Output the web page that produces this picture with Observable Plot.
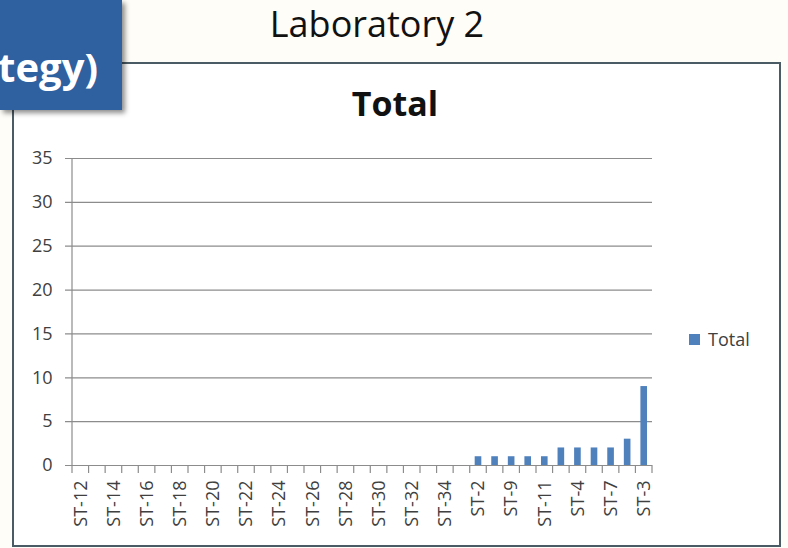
<!DOCTYPE html>
<html>
<head>
<meta charset="utf-8">
<script src="https://cdn.jsdelivr.net/npm/d3@7"></script>
<script src="https://cdn.jsdelivr.net/npm/@observablehq/plot@0.6"></script>
<style>
  html, body { margin: 0; padding: 0; background: #fffdf8; }
  #stage { position: relative; width: 788px; height: 548px; overflow: hidden; background: #fffdf8; font-family: "Open Sans", sans-serif; }
  #frame { position: absolute; left: 12px; top: 62px; width: 765px; height: 481px; border: 2px solid #4b5b65; background: #ffffff; }
  #plot { position: absolute; left: 0; top: 0; }
  #badge { position: absolute; left: 0; top: 0; width: 122px; height: 110px; background: #2f609f; box-shadow: 3px 3px 5px rgba(0,0,0,0.45); z-index: 5; overflow: hidden; }
  #badge span { position: absolute; right: 24px; top: 47px; color: #fff; font: bold 40px "Open Sans", sans-serif; line-height: 1; white-space: nowrap; }
  #slideTitle { position: absolute; left: 0; width: 754px; top: 0px; text-align: center; font-size: 36px; line-height: 48px; color: #111; }
  #chartTitle { position: absolute; left: 0; width: 790px; top: 80px; text-align: center; font-size: 34px; line-height: 46px; font-weight: bold; color: #111; }
  #legend { position: absolute; left: 689px; top: 327px; font-size: 18px; color: #404040; display: flex; align-items: center; }
  #legend i { display: inline-block; width: 11px; height: 11px; background: #4f81bd; margin-right: 8px; }
</style>
</head>
<body>
<div id="stage">
  <div id="slideTitle">Laboratory 2</div>
  <div id="frame"></div>
  <div id="plot"></div>
  <div id="chartTitle">Total</div>
  <div id="legend"><i></i><span>Total</span></div>
  <div id="badge"><span>tegy)</span></div>
</div>
<script>
const categories = [
  "ST-12","ST-13","ST-14","ST-15","ST-16","ST-17","ST-18","ST-19","ST-20","ST-21",
  "ST-22","ST-23","ST-24","ST-25","ST-26","ST-27","ST-28","ST-29","ST-30","ST-31",
  "ST-32","ST-33","ST-34","ST-35","ST-2","ST-5","ST-9","ST-10","ST-11","ST-1",
  "ST-4","ST-6","ST-7","ST-8","ST-3"
];
const totals = [
  0,0,0,0,0,0,0,0,0,0,
  0,0,0,0,0,0,0,0,0,0,
  0,0,0,0,1,1,1,1,1,2,
  2,2,2,3,9
];
const xTickLabels = ["ST-12","ST-14","ST-16","ST-18","ST-20","ST-22","ST-24","ST-26","ST-28","ST-30","ST-32","ST-34","ST-2","ST-9","ST-11","ST-4","ST-7","ST-3"];
const yTicks = [0,5,10,15,20,25,30,35];

const data = categories.map((c, i) => ({category: c, total: totals[i]}));

const W = 788, H = 548, ML = 72, MR = 136, MT = 158, MB = 83;
const grid = "#8c8c8c";
const textColor = "#404040";
const svgns = "http://www.w3.org/2000/svg";

// Excel-style category axis: vertical axis line plus ticks on category boundaries
function categoryFrame(index, scales, values, dimensions) {
  const g = document.createElementNS(svgns, "g");
  const x = scales.x;
  const y = scales.y;
  const step = x.step ? x.step() : (W - ML - MR) / categories.length;
  const bw = x.bandwidth ? x.bandwidth() : 0;
  const y0 = y(0), yTop = y(35);
  const left = x(categories[0]) + bw / 2 - step / 2;
  const add = (x1, y1, x2, y2) => {
    const l = document.createElementNS(svgns, "line");
    l.setAttribute("x1", x1); l.setAttribute("y1", y1);
    l.setAttribute("x2", x2); l.setAttribute("y2", y2);
    l.setAttribute("stroke", grid); l.setAttribute("stroke-width", 1.2);
    g.appendChild(l);
  };
  add(left, yTop, left, y0 + 8);
  categories.forEach(c => {
    const xb = x(c) + bw / 2 + step / 2;
    add(xb, y0, xb, y0 + 8);
  });
  return g;
}

const chart = Plot.plot({
  width: W,
  height: H,
  marginLeft: ML,
  marginRight: MR,
  marginTop: MT,
  marginBottom: MB,
  style: {background: "transparent", fontFamily: "'Open Sans', sans-serif", color: textColor},
  x: {domain: categories, paddingInner: 0.6, paddingOuter: 0.3, round: false, axis: null},
  y: {domain: [0, 35], axis: null},
  marks: [
    Plot.ruleY(yTicks, {y: d => d, stroke: grid, strokeWidth: 1.2, insetLeft: -7}),
    categoryFrame,
    Plot.axisX({ticks: xTickLabels, tickSize: 0, tickPadding: 15, tickRotate: -90, fontSize: 18, fill: textColor, label: null}),
    Plot.axisY({ticks: yTicks, tickSize: 0, tickPadding: 20, fontSize: 18, fill: textColor, tickFormat: d => String(d), label: null}),
    Plot.barY(data, {x: "category", y: "total", fill: "#4f81bd"})
  ]
});
document.getElementById("plot").appendChild(chart);
</script>
</body>
</html>
